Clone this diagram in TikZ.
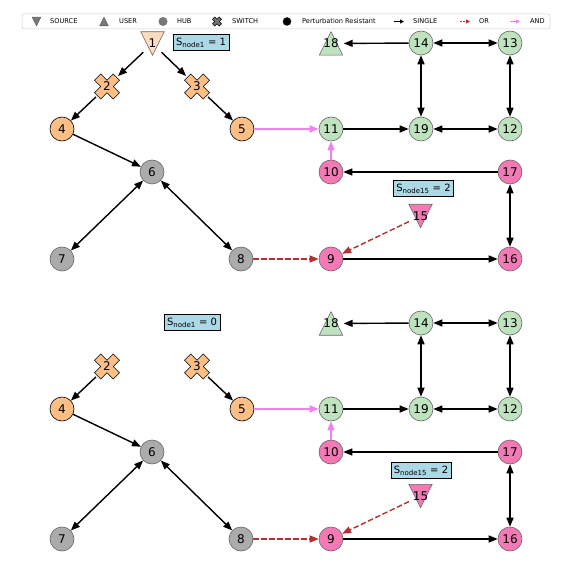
\documentclass[tikz,border=0pt]{standalone}
\usepackage{fontspec}
\setmainfont{DejaVu Sans}
\usetikzlibrary{arrows.meta}
\definecolor{cpeach}{HTML}{FDDCBE}
\definecolor{corange}{HTML}{FDBF86}
\definecolor{cgray}{HTML}{ABABAB}
\definecolor{cgreen}{HTML}{BFE3BE}
\definecolor{cpink}{HTML}{F47AB5}
\definecolor{cblue}{HTML}{ADD8E6}
\definecolor{cred}{HTML}{B23232}
\definecolor{cviolet}{HTML}{EE82EE}
\definecolor{legg}{HTML}{777777}
\tikzset{
  x=1pt, y=-1pt,
  lbl/.style={font=\fontsize{12}{14}\selectfont},
  nd/.style={circle, minimum size=24pt, inner sep=0pt, draw=black!60, line width=0.6pt, lbl},
  orn/.style={nd, fill=corange, draw=black},
  hub/.style={nd, fill=cgray},
  grn/.style={nd, fill=cgreen},
  pnk/.style={nd, fill=cpink},
  anch/.style={circle, minimum size=25pt, inner sep=0pt, lbl},
  swn/.style={circle, minimum size=30pt, inner sep=0pt, lbl},
  tip/.tip={Triangle[length=9pt,width=7pt]},
  single/.style={line width=1.4pt, -tip},
  bidir/.style={line width=1.4pt, tip-tip},
  orarr/.style={line width=1.4pt, draw=cred, dash pattern=on 5.5pt off 2.5pt, -{Triangle[length=9pt,width=7pt,fill=cred]}},
  andarr/.style={line width=1.4pt, draw=cviolet, -{Triangle[length=9pt,width=7pt,fill=cviolet]}},
  sbox/.style={draw=black, fill=cblue, line width=0.6pt, inner xsep=3pt, inner ysep=3.5pt, font=\fontsize{10}{11}\selectfont},
  legtxt/.style={anchor=west, inner sep=0pt, font=\fontsize{6.6}{7}\selectfont},
}
\newcommand\tridn[4][11.7]{\filldraw[fill=#4, draw=black!60, line width=0.6pt] (#2-#1,#3-#1) -- (#2+#1,#3-#1) -- (#2,#3+#1) -- cycle;}
\newcommand\triup[4][11.7]{\filldraw[fill=#4, draw=black!60, line width=0.6pt] (#2-#1,#3+#1) -- (#2+#1,#3+#1) -- (#2,#3-#1) -- cycle;}
\newcommand\xshape[4][25]{\filldraw[shift={(#2,#3)}, scale=#1, fill=#4, draw=black, line width=0.6pt]
  (-0.25,-0.5) -- (0,-0.25) -- (0.25,-0.5) -- (0.5,-0.25) -- (0.25,0) -- (0.5,0.25) -- (0.25,0.5) -- (0,0.25) -- (-0.25,0.5) -- (-0.5,0.25) -- (-0.25,0) -- (-0.5,-0.25) -- cycle;}
\newcommand\panel[2]{%
\begin{scope}[shift={(0,#2)}]
  \xshape{107}{86.5}{corange}
  \xshape{197}{86.5}{corange}
  \node[swn] (#1n2) at (107,86.5) {2};
  \node[swn] (#1n3) at (197,86.5) {3};
  \node[orn] (#1n4) at (62,129) {4};
  \node[orn] (#1n5) at (242,129) {5};
  \node[hub] (#1n6) at (152,172) {6};
  \node[hub] (#1n7) at (62,259) {7};
  \node[hub] (#1n8) at (241,259) {8};
  \node[pnk] (#1n9) at (331,259) {9};
  \node[pnk] (#1n10) at (331,172) {10};
  \node[grn] (#1n11) at (331,129) {11};
  \node[grn] (#1n12) at (510,129) {12};
  \node[grn] (#1n13) at (510,43) {13};
  \node[grn] (#1n14) at (421,43) {14};
  \triup{331}{43.5}{cgreen}
  \node[anch] (#1n18) at (331,43.5) {18};
  \tridn{420.5}{216}{cpink}
  \node[anch] (#1n15) at (420.5,216) {15};
  \node[pnk] (#1n16) at (510,259) {16};
  \node[pnk] (#1n17) at (510,172) {17};
  \node[grn] (#1n19) at (421,129) {19};
  \draw[single] (#1n2) -- (#1n4);
  \draw[single] (#1n3) -- (#1n5);
  \draw[single] (#1n4) -- (#1n6);
  \draw[bidir] (#1n6) -- (#1n7);
  \draw[bidir] (#1n6) -- (#1n8);
  \draw[andarr] (#1n5) -- (#1n11);
  \draw[andarr] (#1n10) -- (#1n11);
  \draw[orarr] (#1n8) -- (#1n9);
  \draw[orarr] (#1n15) -- (#1n9);
  \draw[single] (#1n9) -- (#1n16);
  \draw[bidir] (#1n16) -- (#1n17);
  \draw[single] (#1n17) -- (#1n10);
  \draw[single] (#1n11) -- (#1n19);
  \draw[bidir] (#1n19) -- (#1n12);
  \draw[bidir] (#1n12) -- (#1n13);
  \draw[bidir] (#1n13) -- (#1n14);
  \draw[bidir] (#1n14) -- (#1n19);
  \draw[single] (#1n14) -- (#1n18);
\end{scope}}
\begin{document}
\begin{tikzpicture}
\path[use as bounding box, fill=white] (0,0) rectangle (570,564);
% legend
\draw[draw=black!20, fill=white, rounded corners=2pt, line width=0.5pt] (22,14) rectangle (550,29);
\tridn[4.3]{36.5}{21.5}{legg}
\node[legtxt] (lsrc) at (50,21.5) {SOURCE};
\triup[4.3]{104}{21.5}{legg}
\node[legtxt] (lusr) at (119,21.5) {USER};
\node[circle, fill=legg, draw=black!60, line width=0.3pt, minimum size=8.5pt, inner sep=0pt] (lhubi) at (163,21.5) {};
\node[legtxt] (lhub) at (177,21.5) {HUB};
\xshape[9]{217}{21.5}{legg}
\node[legtxt] (lsw) at (232,21.5) {SWITCH};
\node[circle, fill=black, minimum size=8.5pt, inner sep=0pt] (lpri) at (287,21.5) {};
\node[legtxt] (lpr) at (302,21.5) {Perturbation Resistant};
\coordinate (ls1) at (394,21.5); \coordinate (ls2) at (404,21.5);
\draw[line width=1pt, -{Triangle[length=4pt,width=4pt]}] (ls1) -- (ls2);
\node[legtxt] (lsg) at (413,21.5) {SINGLE};
\coordinate (lo1) at (460,21.5); \coordinate (lo2) at (470,21.5);
\draw[line width=1pt, draw=cred, dash pattern=on 2pt off 1pt, -{Triangle[length=4pt,width=4pt,fill=cred]}] (lo1) -- (lo2);
\node[legtxt] (lor) at (479,21.5) {OR};
\coordinate (la1) at (510,21.5); \coordinate (la2) at (520,21.5);
\draw[line width=1pt, draw=cviolet, -{Triangle[length=4pt,width=4pt,fill=cviolet]}] (la1) -- (la2);
\node[legtxt] (land) at (530,21.5) {AND};
% top panel
\tridn{152.5}{43.5}{cpeach}
\node[anch] (tn1) at (152.5,43.5) {1};
\panel{t}{0}
\draw[single] (tn1) -- (tn2);
\draw[single] (tn1) -- (tn3);
\node[sbox] (tb1) at (201,42.5) {S\textsubscript{node1} = 1};
\node[sbox] (tb15) at (423.5,188.5) {S\textsubscript{node15} = 2};
% bottom panel
\panel{b}{280}
\node[sbox] (bb1) at (192,322.5) {S\textsubscript{node1} = 0};
\node[sbox] (bb15) at (421,470.5) {S\textsubscript{node15} = 2};
\end{tikzpicture}
\end{document}
